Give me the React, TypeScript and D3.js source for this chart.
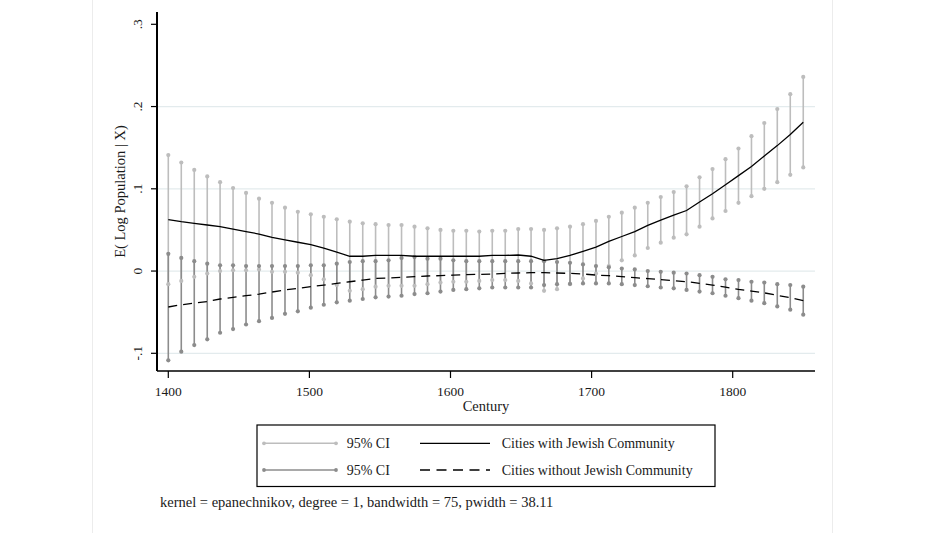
import * as d3 from "d3";

// lpoly evaluation grid (50 points, 1400-1850)
const GRID = [
  1400.0, 1409.2, 1418.4, 1427.6, 1436.7, 1445.9, 1455.1, 1464.3, 1473.5, 1482.7,
  1491.8, 1501.0, 1510.2, 1519.4, 1528.6, 1537.8, 1546.9, 1556.1, 1565.3, 1574.5,
  1583.7, 1592.9, 1602.0, 1611.2, 1620.4, 1629.6, 1638.8, 1648.0, 1657.1, 1666.3,
  1675.5, 1684.7, 1693.9, 1703.1, 1712.2, 1721.4, 1730.6, 1739.8, 1749.0, 1758.2,
  1767.3, 1776.5, 1785.7, 1794.9, 1804.1, 1813.3, 1822.4, 1831.6, 1840.8, 1850.0,
];

// Cities with Jewish Community: smoothed mean and 95% CI
const WITH_MEAN = [
  0.0625, 0.060, 0.058, 0.056, 0.054, 0.051, 0.048, 0.045, 0.041, 0.038,
  0.035, 0.032, 0.028, 0.023, 0.018, 0.018, 0.019, 0.019, 0.019, 0.018,
  0.018, 0.018, 0.018, 0.018, 0.018, 0.019, 0.019, 0.0195, 0.018, 0.013,
  0.015, 0.019, 0.024, 0.029, 0.036, 0.042, 0.048, 0.0555, 0.062, 0.068,
  0.0736, 0.084, 0.094, 0.105, 0.116, 0.127, 0.140, 0.1525, 0.166, 0.181,
];
const WITH_HI = [
  0.141, 0.132, 0.123, 0.115, 0.108, 0.101, 0.095, 0.088, 0.083, 0.077,
  0.072, 0.069, 0.066, 0.063, 0.060, 0.058, 0.057, 0.056, 0.056, 0.054,
  0.052, 0.050, 0.049, 0.049, 0.048, 0.049, 0.049, 0.051, 0.051, 0.050,
  0.052, 0.054, 0.057, 0.061, 0.066, 0.071, 0.077, 0.083, 0.090, 0.096,
  0.103, 0.114, 0.124, 0.136, 0.149, 0.164, 0.180, 0.197, 0.215, 0.236,
];
const WITH_LO = [
  -0.016, -0.012, -0.007, -0.003, 0.000, 0.001, 0.001, 0.002, -0.001, -0.001,
  -0.002, -0.005, -0.010, -0.017, -0.024, -0.022, -0.019, -0.018, -0.018, -0.018,
  -0.016, -0.014, -0.013, -0.013, -0.012, -0.011, -0.011, -0.012, -0.015, -0.024,
  -0.022, -0.016, -0.009, -0.003, 0.006, 0.013, 0.019, 0.028, 0.0345, 0.0406,
  0.0446, 0.054, 0.064, 0.073, 0.083, 0.091, 0.100, 0.108, 0.117, 0.126,
];

// Cities without Jewish Community
const WITHOUT_MEAN = [
  -0.0437, -0.041, -0.039, -0.037, -0.034, -0.032, -0.030, -0.028, -0.0255, -0.023,
  -0.021, -0.019, -0.017, -0.015, -0.013, -0.011, -0.009, -0.0085, -0.0077, -0.0068,
  -0.006, -0.0056, -0.005, -0.0044, -0.004, -0.0036, -0.0028, -0.0024, -0.002, -0.002,
  -0.0024, -0.0028, -0.0036, -0.0049, -0.0056, -0.0068, -0.0081, -0.0092, -0.0103, -0.0117,
  -0.0129, -0.015, -0.017, -0.0196, -0.0223, -0.0243, -0.0265, -0.0296, -0.0322, -0.036,
];
const WITHOUT_HI = [
  0.021, 0.016, 0.012, 0.009, 0.007, 0.007, 0.006, 0.006, 0.006, 0.006,
  0.006, 0.007, 0.007, 0.009, 0.011, 0.012, 0.012, 0.013, 0.016, 0.017,
  0.015, 0.015, 0.013, 0.012, 0.012, 0.012, 0.012, 0.012, 0.012, 0.012,
  0.011, 0.010, 0.008, 0.006, 0.0045, 0.003, 0.002, 0.000, -0.001, -0.002,
  -0.003, -0.005, -0.007, -0.010, -0.011, -0.013, -0.014, -0.016, -0.017, -0.019,
];
const WITHOUT_LO = [
  -0.1085, -0.098, -0.090, -0.083, -0.075, -0.0705, -0.065, -0.061, -0.057, -0.052,
  -0.049, -0.0445, -0.041, -0.038, -0.036, -0.034, -0.032, -0.031, -0.030, -0.028,
  -0.027, -0.025, -0.023, -0.022, -0.021, -0.020, -0.020, -0.020, -0.020, -0.017,
  -0.016, -0.0155, -0.015, -0.015, -0.015, -0.016, -0.017, -0.0185, -0.020, -0.021,
  -0.023, -0.025, -0.027, -0.030, -0.033, -0.036, -0.039, -0.043, -0.047, -0.053,
];

const Y_TICKS = [-0.1, 0, 0.1, 0.2, 0.3];
const Y_TICK_LABELS = ["-.1", "0", ".1", ".2", ".3"];
const GRID_LINES = [-0.1, 0, 0.1, 0.2];
const X_TICKS = [1400, 1500, 1600, 1700, 1800];

const NOTE = "kernel = epanechnikov, degree = 1, bandwidth = 75, pwidth = 38.11";

const FONT = "'Liberation Serif', 'DejaVu Serif', serif";
const TEXT = "#1a1a1a";
const LIGHT = "#bdbdbd";
const DARK = "#8c8c8c";
const GRIDC = "#e3ebed";

const W = 925;
const H = 533;
const plot = { left: 157, right: 815, top: 12, bottom: 371 };

export default function App() {
  const x = d3.scaleLinear().domain([1400, 1800]).range([168.3, 732.7]);
  const y = d3.scaleLinear().domain([-0.1, 0.3]).range([353.3, 24.3]);

  const line = d3
    .line<[number, number]>()
    .x((d) => x(d[0]))
    .y((d) => y(d[1]));

  const withPath = line(GRID.map((g, i) => [g, WITH_MEAN[i]]))!;
  const withoutPath = line(GRID.map((g, i) => [g, WITHOUT_MEAN[i]]))!;

  const bars = (lo: number[], hi: number[], color: string) =>
    GRID.map((g, i) => (
      <line
        key={i}
        x1={x(g)}
        x2={x(g)}
        y1={y(lo[i])}
        y2={y(hi[i])}
        stroke={color}
        strokeWidth={1.6}
      />
    ));

  const caps = (lo: number[], hi: number[], color: string) =>
    GRID.map((g, i) => (
      <g key={i} fill={color}>
        <circle cx={x(g)} cy={y(lo[i])} r={2.1} />
        <circle cx={x(g)} cy={y(hi[i])} r={2.1} />
      </g>
    ));

  const legendX = 257;
  const legendY = 425;
  const row1 = 443.3;
  const row2 = 470;

  return (
    <svg
      width={W}
      height={H}
      style={{ position: "absolute", left: 0, top: 0, background: "#fff" }}
      fontFamily={FONT}
    >
      {/* graph region edges */}
      <line x1={92.5} x2={92.5} y1={0} y2={H} stroke="#ececec" />
      <line x1={832.5} x2={832.5} y1={0} y2={H} stroke="#ececec" />

      {/* gridlines */}
      {GRID_LINES.map((v) => (
        <line
          key={v}
          x1={plot.left}
          x2={plot.right}
          y1={y(v)}
          y2={y(v)}
          stroke={GRIDC}
          strokeWidth={1.3}
        />
      ))}

      {/* confidence intervals */}
      {bars(WITH_LO, WITH_HI, LIGHT)}
      {bars(WITHOUT_LO, WITHOUT_HI, DARK)}
      {caps(WITH_LO, WITH_HI, LIGHT)}
      {caps(WITHOUT_LO, WITHOUT_HI, DARK)}

      {/* smoothed means */}
      <path d={withPath} fill="none" stroke="#000" strokeWidth={1.3} />
      <path
        d={withoutPath}
        fill="none"
        stroke="#000"
        strokeWidth={1.3}
        strokeDasharray="9 6"
      />

      {/* y axis */}
      <line x1={plot.left} x2={plot.left} y1={plot.top} y2={plot.bottom} stroke="#000" strokeWidth={2} />
      {Y_TICKS.map((v, i) => (
        <g key={v}>
          <line x1={plot.left - 6} x2={plot.left} y1={y(v)} y2={y(v)} stroke="#000" strokeWidth={1.2} />
          <text
            transform={`translate(141.5,${y(v)}) rotate(-90)`}
            textAnchor="middle"
            fontSize={13.5}
            fill={TEXT}
          >
            {Y_TICK_LABELS[i]}
          </text>
        </g>
      ))}
      <text
        transform={`translate(124.5,${(plot.top + plot.bottom) / 2}) rotate(-90)`}
        textAnchor="middle"
        fontSize={14.5}
        fill={TEXT}
      >
        E( Log Population | X)
      </text>

      {/* x axis */}
      <line x1={plot.left} x2={plot.right} y1={plot.bottom} y2={plot.bottom} stroke="#000" strokeWidth={1.5} />
      {X_TICKS.map((t) => (
        <g key={t}>
          <line x1={x(t)} x2={x(t)} y1={plot.bottom} y2={plot.bottom + 7} stroke="#000" strokeWidth={1.2} />
          <text x={x(t)} y={395.5} textAnchor="middle" fontSize={13.5} fill={TEXT}>
            {t}
          </text>
        </g>
      ))}
      <text x={(plot.left + plot.right) / 2} y={411} textAnchor="middle" fontSize={14.5} fill={TEXT}>
        Century
      </text>

      {/* legend */}
      <rect x={legendX} y={legendY} width={458} height={61.5} fill="#fff" stroke="#000" strokeWidth={1.2} />
      <line x1={264} x2={336} y1={row1} y2={row1} stroke={LIGHT} strokeWidth={1.6} />
      <circle cx={264} cy={row1} r={1.9} fill={LIGHT} />
      <circle cx={336} cy={row1} r={1.9} fill={LIGHT} />
      <line x1={264} x2={336} y1={row2} y2={row2} stroke={DARK} strokeWidth={1.6} />
      <circle cx={264} cy={row2} r={1.9} fill={DARK} />
      <circle cx={336} cy={row2} r={1.9} fill={DARK} />
      <text x={346.7} y={row1 + 4.5} fontSize={14} fill={TEXT}>95% CI</text>
      <text x={346.7} y={row2 + 4.5} fontSize={14} fill={TEXT}>95% CI</text>
      <line x1={420} x2={490} y1={row1} y2={row1} stroke="#000" strokeWidth={1.3} />
      <line x1={420} x2={490} y1={row2} y2={row2} stroke="#000" strokeWidth={1.3} strokeDasharray="10 6.5" />
      <text x={501.7} y={row1 + 4.5} fontSize={14} fill={TEXT}>Cities with Jewish Community</text>
      <text x={501.7} y={row2 + 4.5} fontSize={14} fill={TEXT}>Cities without Jewish Community</text>

      {/* note */}
      <text x={160} y={507} fontSize={14.5} fill={TEXT}>
        {NOTE}
      </text>
    </svg>
  );
}
